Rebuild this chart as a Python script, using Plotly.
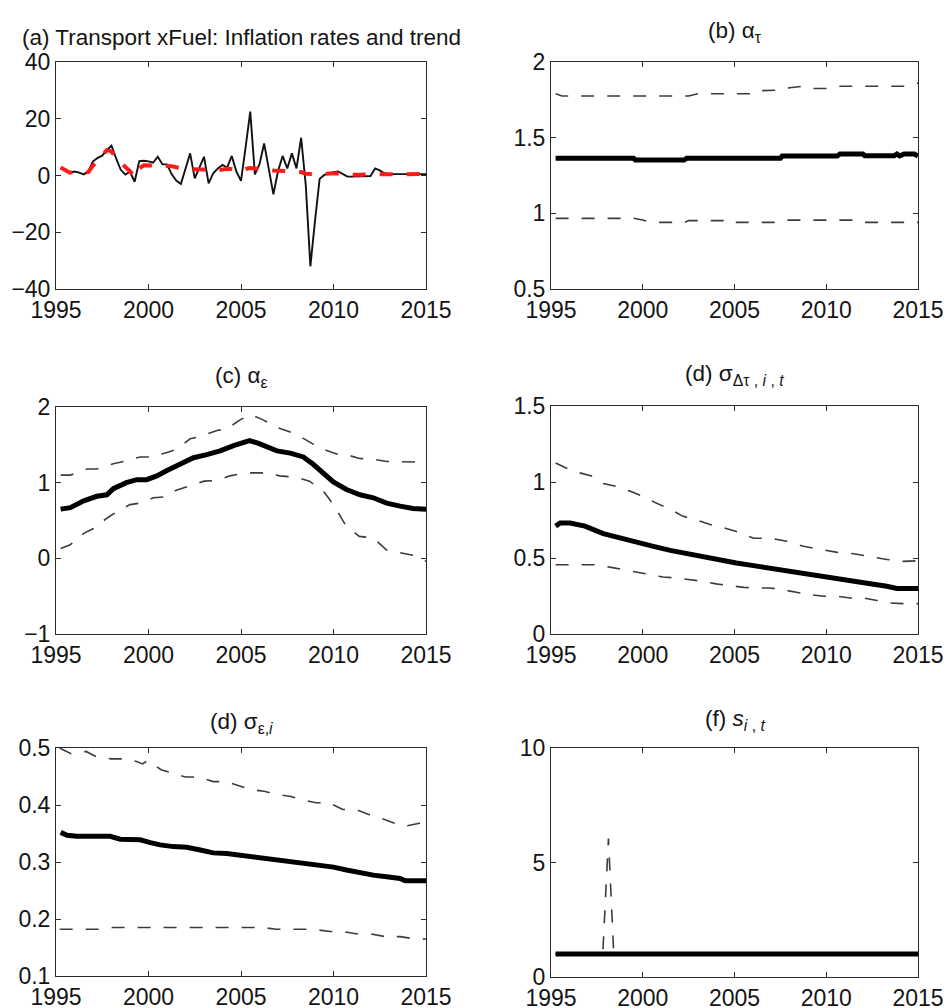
import plotly.graph_objects as go

W, H = 948, 1008
FONT = "Liberation Sans, Arial, sans-serif"
TXT = "#141414"

# ---------------- (a) Transport xFuel: inflation and trend (quarterly) -------------
quarters = [1995.25 + 0.25 * i for i in range(80)]
inflation = [
    2.5, 2.2, 1.0, 1.4, 1.0, 0.4, 1.5, 5.0, 6.2, 7.0,
    9.0, 10.5, 6.0, 2.0, 0.3, 1.3, -2.2, 5.1, 5.2, 5.0,
    4.5, 6.6, 4.0, 3.9, 0.5, -1.8, -3.0, 2.4, 7.8, -1.0,
    3.0, 6.6, -2.8, 0.8, 2.5, 3.7, 2.8, 6.9, 1.4, -1.9,
    10.0, 22.5, 0.4, 4.0, 11.3, 2.4, -6.6, 1.5, 6.9, 2.5,
    7.8, 2.5, 13.3, -3.3, -32.0, -16.0, -1.2, 0.2, 0.8, 1.2,
    1.4, 0.5, -0.4, -0.4, -0.4, -0.4, -0.3, -0.2, 2.5, 1.8,
    0.8, 0.5, 0.5, 0.5, 0.5, 0.5, 0.5, 0.5, 0.5, 0.5,
]
trend = [
    2.8, 2.0, 1.0, 1.2, 1.0, 0.8, 1.2, 3.5, 5.0, 7.0,
    9.0, 8.5, 6.0, 4.5, 3.0, 1.5, -0.5, 2.5, 3.6, 3.6,
    3.5, 3.5, 3.5, 3.5, 3.3, 2.9, 2.5, 2.3, 2.2, 2.2,
    2.2, 2.1, 1.8, 1.6, 1.8, 2.2, 2.4, 2.3, 1.8, 1.5,
    2.3, 2.6, 2.5, 2.5, 2.4, 2.2, 1.8, 1.7, 1.7, 1.7,
    1.6, 1.5, 1.2, 0.6, 0.5, 0.5, 0.5, 0.5, 0.7, 0.8,
    0.9, 0.7, 0.3, 0.2, 0.2, 0.3, 0.4, 0.4, 0.7, 0.6,
    0.5, 0.5, 0.5, 0.5, 0.5, 0.5, 0.5, 0.5, 0.5, 0.5,
]

# ---------------- (b) alpha_tau -------------
b_x_mid = [1995.25, 1999.5, 1999.6, 2002.25, 2002.4, 2007.5, 2007.6, 2010.6, 2010.75,
           2012.0, 2012.1, 2013.7, 2013.85, 2014.0, 2014.25, 2014.8, 2015.0]
b_mid = [1.364, 1.364, 1.352, 1.352, 1.364, 1.364, 1.379, 1.379, 1.392,
         1.392, 1.38, 1.38, 1.392, 1.38, 1.392, 1.392, 1.379]
b_x_up = [1995.25, 1995.6, 2002.5, 2003.0, 2006.0, 2006.3, 2007.5, 2008.0, 2008.8,
          2009.3, 2010.2, 2010.8, 2014.3, 2014.8, 2015.0]
b_up = [1.79, 1.775, 1.775, 1.79, 1.79, 1.81, 1.815, 1.83, 1.84,
        1.825, 1.825, 1.84, 1.84, 1.86, 1.86]
b_x_lo = [1995.25, 1999.5, 2000.0, 2000.5, 2002.3, 2002.5, 2004.5, 2004.8, 2005.0,
          2007.3, 2007.7, 2011.5, 2012.0, 2015.0]
b_lo = [0.967, 0.967, 0.956, 0.94, 0.94, 0.952, 0.952, 0.958, 0.94,
        0.94, 0.955, 0.955, 0.94, 0.94]

# ---------------- (c) alpha_epsilon -------------
c_x_mid = [1995.25, 1995.77, 1996.5, 1997.2, 1997.75, 1998.1, 1998.8, 1999.37, 1999.9,
           2000.45, 2001.0, 2001.7, 2002.43, 2003.15, 2003.87, 2004.6, 2005.3, 2005.46,
           2005.95, 2006.4, 2006.94, 2007.66, 2008.37, 2008.92, 2009.45, 2009.99, 2010.7,
           2011.43, 2012.15, 2012.87, 2013.6, 2014.3, 2015.0]
c_mid = [0.65, 0.67, 0.76, 0.82, 0.84, 0.92, 1.0, 1.04, 1.04,
         1.09, 1.16, 1.24, 1.33, 1.37, 1.42, 1.49, 1.55, 1.556,
         1.52, 1.47, 1.42, 1.39, 1.34, 1.24, 1.13, 1.01, 0.91,
         0.84, 0.80, 0.73, 0.69, 0.66, 0.65]
c_x_up = [1995.25, 1995.77, 1996.67, 1997.2, 1998.1, 1998.65, 1999.55, 2000.2, 2001.0,
          2001.5, 2002.25, 2002.8, 2003.7, 2004.23, 2004.95, 2005.5, 2006.2, 2006.94,
          2007.66, 2008.2, 2008.9, 2009.45, 2010.17, 2010.7, 2011.4, 2012.15, 2012.87, 2015.0]
c_up = [1.10, 1.10, 1.18, 1.18, 1.25, 1.28, 1.34, 1.34, 1.40,
        1.44, 1.58, 1.61, 1.69, 1.71, 1.83, 1.90, 1.83, 1.73,
        1.67, 1.61, 1.51, 1.44, 1.38, 1.37, 1.32, 1.31, 1.28, 1.27]
c_x_lo = [1995.25, 1995.77, 1996.5, 1997.0, 1997.75, 1998.3, 1999.0, 1999.55, 2000.27,
          2000.8, 2001.5, 2002.25, 2003.0, 2003.7, 2004.4, 2005.3, 2006.4, 2007.1,
          2008.0, 2008.7, 2009.45, 2010.0, 2010.7, 2011.4, 2012.15, 2012.87, 2013.6,
          2014.3, 2015.0]
c_lo = [0.13, 0.18, 0.33, 0.39, 0.53, 0.62, 0.71, 0.73, 0.80,
        0.81, 0.90, 0.96, 1.02, 1.03, 1.09, 1.13, 1.13, 1.09,
        1.07, 1.02, 0.89, 0.71, 0.42, 0.29, 0.27, 0.11, 0.07,
        0.04, -0.04]

# ---------------- (d) sigma_{dtau,i,t} -------------
d_x_mid = [1995.25, 1995.5, 1996.04, 1996.85, 1997.85, 1998.76, 1999.67, 2000.58, 2001.5,
           2002.4, 2003.3, 2004.2, 2005.1, 2006.04, 2006.95, 2007.85, 2008.76, 2009.67,
           2010.6, 2011.5, 2012.4, 2013.3, 2013.85, 2015.0]
d_mid = [0.71, 0.73, 0.73, 0.71, 0.66, 0.63, 0.605, 0.577, 0.55,
         0.528, 0.507, 0.485, 0.467, 0.45, 0.434, 0.412, 0.395, 0.38,
         0.362, 0.35, 0.33, 0.314, 0.30, 0.30]
d_x_up = [1995.25, 1995.85, 1996.58, 1997.2, 1997.85, 1998.58, 1999.3, 2000.0, 2000.76,
          2001.5, 2002.2, 2002.95, 2003.67, 2004.4, 2005.1, 2006.04, 2006.95, 2007.85,
          2008.76, 2009.67, 2010.6, 2011.5, 2012.4, 2013.3, 2014.2, 2015.0]
d_up = [1.125, 1.09, 1.06, 1.04, 0.99, 0.97, 0.94, 0.905, 0.86,
        0.82, 0.774, 0.75, 0.72, 0.70, 0.675, 0.63, 0.63, 0.61,
        0.577, 0.555, 0.537, 0.528, 0.51, 0.49, 0.478, 0.482]
d_x_lo = [1995.25, 1997.45, 1998.2, 1998.95, 1999.67, 2000.4, 2001.1, 2001.85, 2002.58,
          2003.3, 2004.0, 2004.76, 2005.5, 2006.2, 2006.95, 2007.67, 2008.4, 2009.1,
          2009.85, 2010.6, 2011.3, 2012.03, 2012.76, 2013.5, 2014.2, 2015.0]
d_lo = [0.456, 0.456, 0.44, 0.423, 0.406, 0.39, 0.375, 0.368, 0.357,
        0.346, 0.33, 0.318, 0.307, 0.303, 0.303, 0.29, 0.274, 0.259,
        0.248, 0.248, 0.237, 0.237, 0.22, 0.204, 0.20, 0.20]

# ---------------- (e) sigma_{eps,i} -------------
e_x_mid = [1995.25, 1995.6, 1996.13, 1997.93, 1998.47, 1999.55, 2000.1, 2000.63, 2001.35,
           2002.07, 2002.8, 2003.5, 2004.23, 2004.95, 2005.67, 2006.4, 2007.1, 2007.83,
           2008.55, 2009.27, 2010.0, 2010.7, 2011.43, 2012.15, 2012.87, 2013.6, 2013.87, 2015.0]
e_mid = [0.352, 0.347, 0.345, 0.345, 0.340, 0.339, 0.334, 0.330, 0.327,
         0.326, 0.321, 0.316, 0.315, 0.312, 0.308, 0.306, 0.304, 0.300,
         0.298, 0.295, 0.291, 0.286, 0.281, 0.277, 0.274, 0.271, 0.267, 0.267]
e_x_up = [1995.2, 1995.81, 1996.62, 1997.16, 1997.97, 1998.7, 1999.4, 1999.68, 1999.95,
          2000.68, 2001.3, 2002.0, 2002.75, 2003.5, 2004.2, 2004.9, 2005.54, 2006.26,
          2007.0, 2007.7, 2008.33, 2009.05, 2009.77, 2010.5, 2011.2, 2011.94, 2012.57,
          2013.3, 2013.92, 2014.64, 2015.0]
e_up = [0.50, 0.49, 0.494, 0.485, 0.481, 0.481, 0.476, 0.472, 0.478,
        0.462, 0.456, 0.449, 0.449, 0.441, 0.441, 0.433, 0.427, 0.424,
        0.418, 0.415, 0.409, 0.404, 0.404, 0.392, 0.392, 0.383, 0.377,
        0.368, 0.363, 0.368, 0.368]
e_x_lo = [1995.2, 1997.34, 1998.06, 2006.2, 2006.9, 2008.9, 2009.8, 2010.5, 2011.2,
          2012.0, 2012.8, 2013.6, 2014.4, 2015.0]
e_lo = [0.182, 0.182, 0.185, 0.185, 0.182, 0.182, 0.178, 0.178, 0.174,
        0.174, 0.169, 0.169, 0.165, 0.165]

# ---------------- (f) s_{i,t} -------------
f_x_mid = [1995.25, 2015.0]
f_mid = [1.0, 1.0]
f_x_up = [1995.25, 1997.82, 1998.13, 1998.42, 2015.0]
f_up = [1.0, 1.0, 6.05, 1.0, 1.0]
f_x_lo = [1995.25, 2015.0]
f_lo = [1.0, 1.0]

# ---------------- layout geometry (pixels) -------------
panels = [
    (56, 426, 62, 289),
    (551, 918, 62, 289),
    (56, 426, 407, 634),
    (551, 918, 406, 634),
    (56, 426, 748, 976),
    (551, 918, 748, 977),
]
yranges = [(-40, 40), (0.5, 2), (-1, 2), (0, 1.5), (0.1, 0.5), (0, 10)]
yticks = [
    [-40, -20, 0, 20, 40],
    [0.5, 1, 1.5, 2],
    [-1, 0, 1, 2],
    [0, 0.5, 1, 1.5],
    [0.1, 0.2, 0.3, 0.4, 0.5],
    [0, 5, 10],
]
yticktext = [
    ["\u221240", "\u221220", "0", "20", "40"],
    ["0.5", "1", "1.5", "2"],
    ["\u22121", "0", "1", "2"],
    ["0", "0.5", "1", "1.5"],
    ["0.1", "0.2", "0.3", "0.4", "0.5"],
    ["0", "5", "10"],
]
year_ticks = [1995, 2000, 2005, 2010, 2015]

fig = go.Figure()

DASH = "13px,13px"
BAND_COLOR = "#3c3c3c"


def add_line(k, x, y, color, width, dash=None):
    ax = "" if k == 0 else str(k + 1)
    fig.add_trace(go.Scatter(
        x=x, y=y, mode="lines", xaxis="x" + ax, yaxis="y" + ax,
        line=dict(color=color, width=width, dash=dash),
        showlegend=False, hoverinfo="skip",
    ))


# (a)
add_line(0, quarters, inflation, "#111111", 1.9)
add_line(0, quarters, trend, "#ff1a1a", 4, "13px,14px")

bands = [
    (b_x_mid, b_mid, b_x_up, b_up, b_x_lo, b_lo),
    (c_x_mid, c_mid, c_x_up, c_up, c_x_lo, c_lo),
    (d_x_mid, d_mid, d_x_up, d_up, d_x_lo, d_lo),
    (e_x_mid, e_mid, e_x_up, e_up, e_x_lo, e_lo),
    (f_x_mid, f_mid, f_x_up, f_up, f_x_lo, f_lo),
]
for k, (xm, ym, xu, yu, xl, yl) in enumerate(bands, start=1):
    add_line(k, xu, yu, BAND_COLOR, 1.6, DASH)
    add_line(k, xl, yl, BAND_COLOR, 1.6, DASH)
    add_line(k, xm, ym, "#000000", 5)

TICK_SIZE = 23
layout = dict(
    template="none",
    width=W, height=H,
    margin=dict(l=0, r=0, t=0, b=0, autoexpand=False),
    paper_bgcolor="white", plot_bgcolor="white",
    font=dict(family=FONT, color=TXT, size=TICK_SIZE),
    showlegend=False,
)
axis_common = dict(
    showline=True, linecolor="#2a2a2a", linewidth=1, mirror="ticks",
    ticks="inside", ticklen=5, tickwidth=1, tickcolor="#2a2a2a",
    showgrid=False, zeroline=False, automargin=False,
    tickfont=dict(family=FONT, size=TICK_SIZE, color=TXT),
)
for k, (x0, x1, y0, y1) in enumerate(panels):
    sfx = "" if k == 0 else str(k + 1)
    layout["xaxis" + sfx] = dict(
        axis_common,
        domain=[x0 / W, x1 / W],
        range=[1995, 2015],
        tickvals=year_ticks,
        ticktext=[str(v) for v in year_ticks],
        anchor="y" + sfx,
    )
    layout["yaxis" + sfx] = dict(
        axis_common,
        domain=[1 - y1 / H, 1 - y0 / H],
        range=list(yranges[k]),
        tickvals=yticks[k],
        ticktext=yticktext[k],
        anchor="x" + sfx,
    )

titles = [
    ("(a) Transport xFuel: Inflation rates and trend", 241, 38),
    ("(b) \u03b1<sub>\u03c4</sub>", 734.5, 32),
    ("(c) \u03b1<sub>\u03b5</sub>", 241, 377),
    ("(d) \u03c3<sub>\u0394\u03c4 , <i>i</i> , <i>t</i></sub>", 734.5, 375),
    ("(d) \u03c3<sub>\u03b5,<i>i</i></sub>", 241, 723),
    ("(f) <i>s</i><sub><i>i</i> , <i>t</i></sub>", 734.5, 720),
]
anns = []
for text, cx, cy in titles:
    anns.append(dict(
        text=text, x=cx / W, y=1 - cy / H, xref="paper", yref="paper",
        xanchor="center", yanchor="middle", showarrow=False,
        font=dict(family=FONT, size=22.5, color=TXT),
    ))
layout["annotations"] = anns

fig.update_layout(**layout)
fig.write_html(
    "out.html",
    config={"displayModeBar": False},
    post_script="document.body.style.margin='0px';document.body.style.overflow='hidden';",
)
